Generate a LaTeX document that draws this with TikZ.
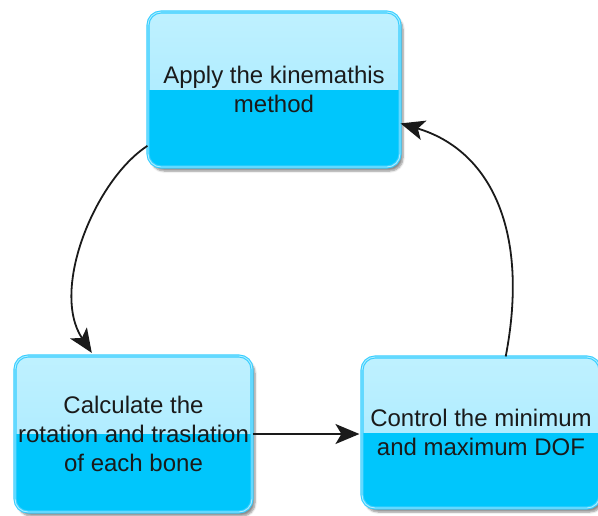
\documentclass[tikz,border=0pt]{standalone}
\usepackage{fontspec}
\setmainfont{Liberation Sans}
\usetikzlibrary{arrows.meta,shadows.blur}

\definecolor{glossTop}{HTML}{BFF1FF}
\definecolor{glossMid}{HTML}{A2E8FF}
\definecolor{boxBody}{HTML}{00C6FC}
\definecolor{boxEdge}{HTML}{38CEFF}
\definecolor{edgeLight}{HTML}{B0EEFF}
\definecolor{inkDark}{HTML}{1A1A1A}

\tikzset{
  stepbox/.style={
    rectangle, rounded corners=13pt,
    draw=boxEdge, double=edgeLight, double distance=0.9pt, line width=1.1pt,
    align=center, inner sep=0pt,
    font=\fontsize{24}{29}\selectfont, text=inkDark,
    blur shadow={shadow xshift=3pt, shadow yshift=-4pt,
                 shadow blur steps=6, shadow opacity=45},
    path picture={
      \shade[sharp corners, top color=glossTop, bottom color=glossMid]
        (path picture bounding box.north west) rectangle ([yshift=-0.5pt]path picture bounding box.east);
      \fill[sharp corners, boxBody]
        (path picture bounding box.west) rectangle (path picture bounding box.south east);
    }
  },
  flow/.style={line width=1.8pt, draw=inkDark,
    -{Stealth[length=24pt,width=20pt,inset=6pt]}}
}

\begin{document}
\begin{tikzpicture}[x=1pt,y=-1pt]
  \useasboundingbox (0,0) rectangle (598,515);

  % process steps
  \node[stepbox, minimum width=252pt, minimum height=155pt] (apply) at (274,89.5)
    {Apply the kinemathis\\method};
  \node[stepbox, minimum width=237pt, minimum height=156pt] (calc) at (133.5,434)
    {Calculate the\\rotation and traslation\\of each bone};
  \node[stepbox, minimum width=238pt, minimum height=151pt] (ctrl) at (481,432.5)
    {Control the minimum\\and maximum DOF};

  % cycle connectors
  \draw[flow, shorten >=3pt] (apply.204) .. controls (95,180) and (50,290) .. (calc.117);
  \draw[flow, shorten >=2pt] (calc.east) -- (calc.east -| ctrl.west);
  \draw[flow] (ctrl.72) .. controls (530,230) and (490,150) .. (apply.345);
\end{tikzpicture}
\end{document}
